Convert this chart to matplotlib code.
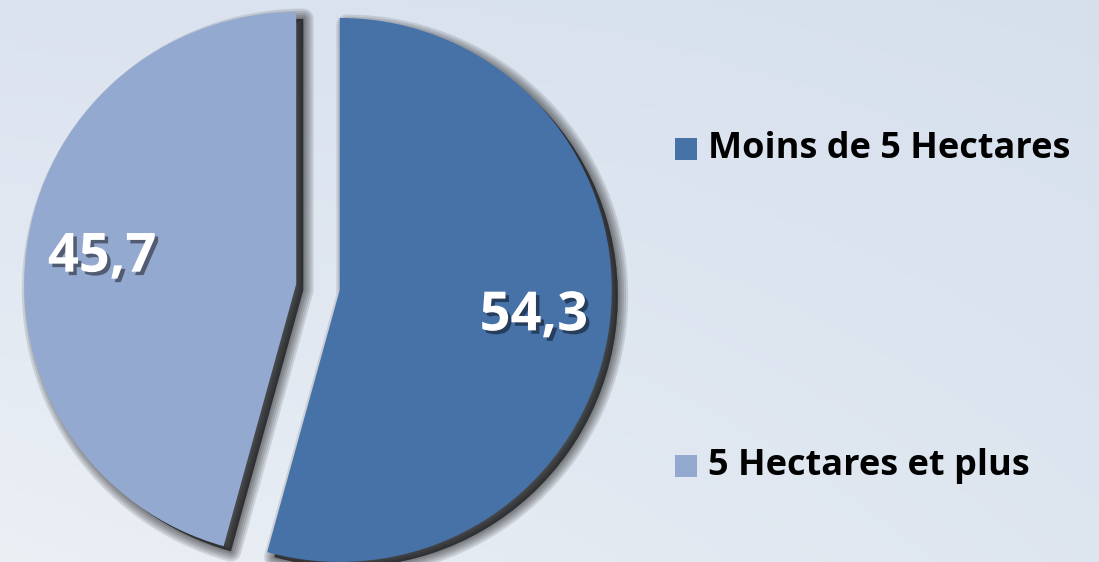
import numpy as np
import matplotlib
matplotlib.use('Agg')
import matplotlib.pyplot as plt
from matplotlib.patches import Wedge, Rectangle
import matplotlib.patheffects as pe

labels = ['Moins de 5 Hectares', '5 Hectares et plus']
values = [54.3, 45.7]
colors = ['#4672A8', '#94A9D0']

W, H = 1099, 562
fig = plt.figure(figsize=(W / 100, H / 100), dpi=100)

# fond degrade bleu clair
bg = fig.add_axes([0, 0, 1, 1])
gx, gy = np.meshgrid(np.linspace(0, 1, 220), np.linspace(0, 1, 120))
tl = np.array([0.86, 0.89, 0.94])
tr = np.array([0.84, 0.88, 0.93])
bl = np.array([0.92, 0.94, 0.96])
br = np.array([0.87, 0.90, 0.94])
img = ((1 - gx) * (1 - gy))[..., None] * tl + (gx * (1 - gy))[..., None] * tr \
    + ((1 - gx) * gy)[..., None] * bl + (gx * gy)[..., None] * br
bg.imshow(img, aspect='auto', extent=[0, 1, 0, 1], origin='upper')
bg.axis('off')

ax = fig.add_axes([0, 0, 1, 1])
ax.patch.set_alpha(0)
cx, cy, r = 318, H - 287, 272

# explode en unites absolues (pixels ici)
wedges, texts, autotexts = ax.pie(
    values, colors=colors, startangle=90, counterclock=False,
    explode=[22, 22], center=(cx, cy), radius=r,
    autopct=lambda p: f"{p:.1f}".replace('.', ','), pctdistance=0.72,
    wedgeprops=dict(linewidth=0), frame=False)

# ombre floue sous les parts (couches superposees)
for w in wedges:
    wx, wy = w.center
    for lw in [15, 12, 9, 6, 3, 0.5]:
        sh = Wedge((wx + 7, wy - 6), w.r - 1, w.theta1, w.theta2,
                   facecolor=(0, 0, 0, 0.14), edgecolor=(0, 0, 0, 0.11),
                   linewidth=lw, joinstyle='round', zorder=0)
        ax.add_patch(sh)
    w.set_zorder(2)

for t in autotexts:
    t.set_fontsize(39)
    t.set_fontweight('bold')
    t.set_color('white')
    t.set_fontfamily('Open Sans')
    t.set_zorder(5)
    t.set_path_effects([pe.SimplePatchShadow(offset=(2.5, -2.5), shadow_rgbFace='black', alpha=0.45),
                        pe.Normal()])

# legende
for lab, col, y in zip(labels, colors, [149, 466]):
    ax.add_patch(Rectangle((675, H - y - 11), 22, 22, facecolor=col, edgecolor='none', zorder=3))
    ax.text(708, H - y, lab, fontsize=26, fontweight='bold', fontfamily='Open Sans',
            color='black', va='center', ha='left', zorder=3)

ax.set_xlim(0, W)
ax.set_ylim(0, H)
ax.set_aspect('auto')
ax.axis('off')

fig.savefig('out.png', dpi=100)
